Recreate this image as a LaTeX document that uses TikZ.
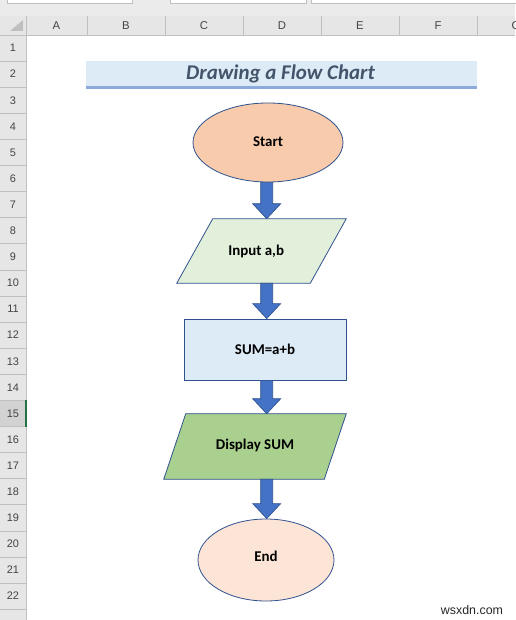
\documentclass[tikz,border=0pt]{standalone}
\usepackage{fontspec}
\setmainfont{Carlito}
\newfontfamily\hdrfont{Liberation Sans}
\usetikzlibrary{shapes.geometric,calc,backgrounds}
\definecolor{topbg}{HTML}{EBEBEB}
\definecolor{hdrbg}{HTML}{E6E6E6}
\definecolor{hdrline}{HTML}{BFBFBF}
\definecolor{selbg}{HTML}{D2D2D2}
\definecolor{xlgreen}{HTML}{217346}
\definecolor{hdrtxt}{HTML}{444444}
\definecolor{titlebg}{HTML}{DDEBF7}
\definecolor{titleline}{HTML}{8EA9DB}
\definecolor{titletxt}{HTML}{44546A}
\definecolor{outl}{HTML}{2F528F}
\definecolor{arrowfill}{HTML}{4472C4}
\definecolor{startfill}{HTML}{F8CBAD}
\definecolor{inputfill}{HTML}{E2EFDA}
\definecolor{sumfill}{HTML}{DDEBF7}
\definecolor{dispfill}{HTML}{A9D08E}
\definecolor{endfill}{HTML}{FCE4D6}
\newcommand\blockarrow[2]{%
  \path[barrow] let \p1=(ax |- #1.south), \p2=(ax |- #2.north) in
  (\x1-4.5pt,\y1) -- (\x1+4.5pt,\y1) -- (\x1+4.5pt,\y2+11.25pt) -- (\x1+10.5pt,\y2+11.25pt)
  -- (\x2,\y2) -- (\x1-10.5pt,\y2+11.25pt) -- (\x1-4.5pt,\y2+11.25pt) -- cycle;}
\newcommand\parallelo[3]{%
  \begin{pgfonlayer}{background}
  \filldraw[fill=#3,draw=outl,line width=0.6pt,line join=miter]
    ([xshift=#2]#1.north west) -- (#1.north east) -- ([xshift=-#2]#1.south east)
    -- (#1.south west) -- cycle;
  \end{pgfonlayer}}
\begin{document}
\begin{tikzpicture}[x=0.75pt,y=-0.75pt,
  hline/.style={draw=hdrline,line width=0.6pt},
  colhdr/.style={font=\hdrfont\fontsize{8.5}{10}\selectfont,text=hdrtxt,inner sep=0pt},
  rowhdr/.style={font=\hdrfont\fontsize{8.2}{10}\selectfont,text=hdrtxt,inner sep=0pt},
  shapetxt/.style={font=\bfseries\fontsize{11.2}{13}\selectfont,text=black,inner sep=0pt},
  fshape/.style={shapetxt,draw=outl,line width=0.6pt},
  barrow/.style={fill=arrowfill,draw=outl,line width=0.5pt,line join=miter},
  parabox/.style={shapetxt,rectangle}
]
\useasboundingbox (0,0) rectangle (515,620);
% top strip
\fill[topbg] (0,0) rectangle (515,16);
\filldraw[fill=white,hline] (7,-2) rectangle (132,3.3);
\filldraw[fill=white,hline] (170,-2) rectangle (306,3.3);
\filldraw[fill=white,hline] (311,-2) rectangle (520,3.3);
% column header
\fill[hdrbg] (0,16) rectangle (515,35);
\fill[hdrbg] (0,35) rectangle (26,620);
\fill[selbg] (0,400.4) rectangle (26,426.5);
\foreach \xx in {26,87,165,243,321,399,477} {\draw[hline] (\xx,16) -- (\xx,35);}
\draw[hline] (0,35) -- (515,35);
\draw[hline] (26,35) -- (26,620);
\foreach \k in {1,...,22} {\draw[hline] (0,{35+\k*26.1}) -- (26,{35+\k*26.1});}
\fill[xlgreen] (24.6,400.4) rectangle (26.6,426.5);
\fill[hdrline] (10,31) -- (23,20) -- (23,31) -- cycle;
% column letters
\node[colhdr] (colA) at (56.5,26) {A};
\node[colhdr] (colB) at (126,26) {B};
\node[colhdr] (colC) at (204,26) {C};
\node[colhdr] (colD) at (282,26) {D};
\node[colhdr] (colE) at (360,26) {E};
\node[colhdr] (colF) at (438,26) {F};
\begin{scope}
\clip (477,16) rectangle (515,35);
\node[colhdr] (colG) at (516,26) {G};
\end{scope}
% row numbers
\foreach \r in {1,...,22} {\node[rowhdr] (row\r) at (13,{35+(\r-0.5)*26.1}) {\r};}
% title
\fill[titlebg] (86,61) rectangle (477,86);
\fill[titleline] (86,86) rectangle (477,89);
\node[font=\bfseries\itshape\fontsize{15.7}{18}\selectfont,text=titletxt,inner sep=0pt] (title) at (280.5,73.5) {Drawing a Flow Chart};
% shapes
\coordinate (ax) at (266.7,0);
\node[fshape,ellipse,fill=startfill,minimum width=112.5pt,minimum height=59.25pt] (start) at (268,142.5) {\raisebox{1.5pt}{Start}};
\node[parabox,minimum width=126.75pt,minimum height=48pt] (input) at (261.5,251) {\hspace*{-8pt}Input a,b};
\parallelo{input}{27pt}{inputfill}
\node[fshape,rectangle,fill=sumfill,minimum width=121.5pt,minimum height=45.75pt] (sum) at (265,349.5) {SUM=a+b};
\node[parabox,minimum width=136.5pt,minimum height=48.75pt] (disp) at (255,446.5) {\raisebox{3pt}{Display SUM}};
\parallelo{disp}{16.5pt}{dispfill}
\node[fshape,ellipse,fill=endfill,minimum width=102pt,minimum height=61.5pt] (end) at (266,560) {\raisebox{6pt}{End}};
% block arrows
\blockarrow{start}{input}
\blockarrow{input}{sum}
\blockarrow{sum}{disp}
\blockarrow{disp}{end}
% watermark
\node[font=\hdrfont\fontsize{9.3}{11}\selectfont,text=black!85,inner sep=0pt] (wm) at (472,610) {wsxdn.com};
\end{tikzpicture}
\end{document}
